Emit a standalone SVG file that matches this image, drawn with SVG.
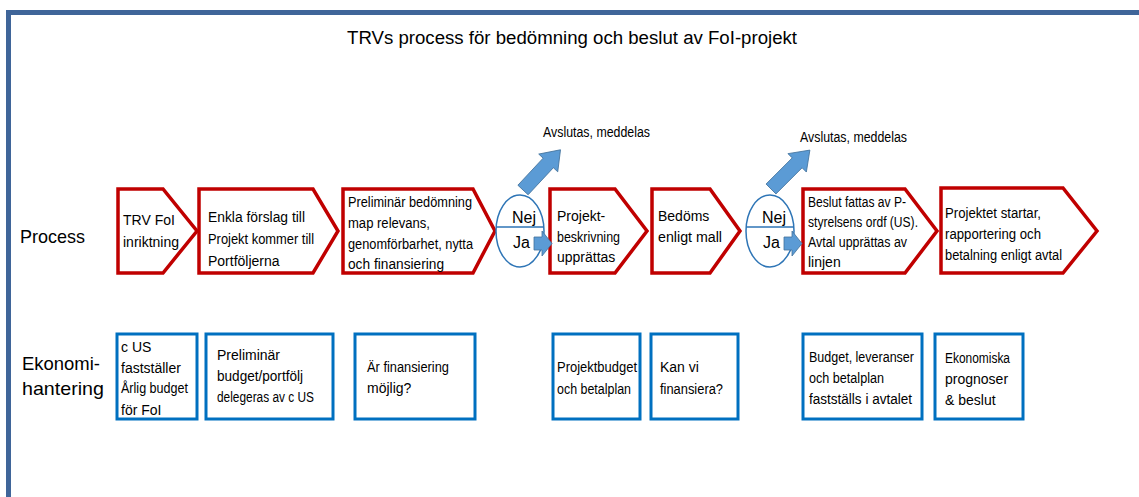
<svg xmlns="http://www.w3.org/2000/svg" width="1139" height="497" viewBox="0 0 1139 497">
<defs>
<style>
text{font-family:"Liberation Sans",Arial,sans-serif;fill:#000;}
.t{font-size:14px;}
.lbl{font-size:19px;}
.nj{font-size:16px;}
.chev{fill:#fff;stroke:#C00000;stroke-width:3.5;stroke-linejoin:miter;}
.box{fill:#fff;stroke:#0070C0;stroke-width:3;}
.circ{fill:#fff;stroke:#2E75B6;stroke-width:1.5;}
.blk{fill:#5B9BD5;stroke:#41719C;stroke-width:0.8;}
.frame{fill:none;stroke:#3F6599;stroke-width:5;}
</style>
</defs>
<rect width="1139" height="497" fill="#fff"/>
<path class="frame" d="M8.5,497 V12.5 H1139"/>
<text x="347" y="44" style="font-size:18px" textLength="450" lengthAdjust="spacingAndGlyphs">TRVs process för bedömning och beslut av FoI-projekt</text>

<text class="lbl" x="20" y="243" textLength="65" lengthAdjust="spacingAndGlyphs">Process</text>
<text class="lbl" x="22" y="370" textLength="78" lengthAdjust="spacingAndGlyphs">Ekonomi-</text>
<text class="lbl" x="22" y="395" textLength="82" lengthAdjust="spacingAndGlyphs">hantering</text>

<g id="p1"><polygon class="chev" points="118,189 163,189 197,231 163,273 118,273"/>
<text class="t" x="123" y="225">TRV FoI</text><text class="t" x="123" y="247">inriktning</text></g>
<g id="p2"><polygon class="chev" points="199,189 313,189 338,231 313,273 199,273"/>
<text class="t" x="208" y="222" textLength="97" lengthAdjust="spacingAndGlyphs">Enkla förslag till</text>
<text class="t" x="208" y="244" textLength="106" lengthAdjust="spacingAndGlyphs">Projekt kommer till</text>
<text class="t" x="208" y="266">Portföljerna</text></g>
<g id="p3"><polygon class="chev" points="343,189 473,189 495,231 473,273 343,273"/>
<text class="t" x="348" y="207" textLength="124" lengthAdjust="spacingAndGlyphs">Preliminär bedömning</text>
<text class="t" x="348" y="228" textLength="82" lengthAdjust="spacingAndGlyphs">map relevans,</text>
<text class="t" x="348" y="249" textLength="125" lengthAdjust="spacingAndGlyphs">genomförbarhet, nytta</text>
<text class="t" x="348" y="269" textLength="96" lengthAdjust="spacingAndGlyphs">och finansiering</text></g>
<g id="d1"><ellipse class="circ" cx="520" cy="231" rx="24" ry="36"/>
<line x1="496" y1="227" x2="544" y2="227" stroke="#2E75B6" stroke-width="1.5"/>
<text class="nj" x="512" y="223">Nej</text><text class="nj" x="513" y="248">Ja</text></g>
<g id="p4"><polygon class="chev" points="550,189 615,189 647,231 615,273 550,273"/>
<text class="t" x="557" y="221">Projekt-</text><text class="t" x="557" y="242" textLength="63" lengthAdjust="spacingAndGlyphs">beskrivning</text><text class="t" x="557" y="262">upprättas</text></g>
<g id="p5"><polygon class="chev" points="652,189 710,189 740,231 710,273 652,273"/>
<text class="t" x="658" y="221">Bedöms</text><text class="t" x="658" y="242" textLength="64" lengthAdjust="spacingAndGlyphs">enligt mall</text></g>
<g id="d2"><ellipse class="circ" cx="770" cy="231" rx="24" ry="36"/>
<line x1="746" y1="227" x2="794" y2="227" stroke="#2E75B6" stroke-width="1.5"/>
<text class="nj" x="762" y="223">Nej</text><text class="nj" x="763" y="248">Ja</text></g>
<g id="p6"><polygon class="chev" points="803,189 905,189 937,231 905,273 803,273"/>
<text class="t" x="808" y="207" textLength="98" lengthAdjust="spacingAndGlyphs">Beslut fattas av P-</text>
<text class="t" x="808" y="227" textLength="110" lengthAdjust="spacingAndGlyphs">styrelsens ordf (US).</text>
<text class="t" x="808" y="247" textLength="99" lengthAdjust="spacingAndGlyphs">Avtal upprättas av</text>
<text class="t" x="808" y="267">linjen</text></g>
<g id="p7"><polygon class="chev" points="941,188 1063,188 1097,231 1063,273 941,273"/>
<text class="t" x="945" y="218" textLength="96" lengthAdjust="spacingAndGlyphs">Projektet startar,</text>
<text class="t" x="945" y="239" textLength="96" lengthAdjust="spacingAndGlyphs">rapportering och</text>
<text class="t" x="945" y="260" textLength="117" lengthAdjust="spacingAndGlyphs">betalning enligt avtal</text></g>

<g id="connectors">
<polygon class="blk" points="0,-7 37,-7 37,-13 55,0 37,13 37,7 0,7" transform="translate(523,190) rotate(-47)"/>
<polygon class="blk" points="0,-7 37,-7 37,-13 55,0 37,13 37,7 0,7" transform="translate(771,189) rotate(-45)"/>
<polygon class="blk" points="534,237 542,237 542,231 552,243.5 542,256 542,250 534,250"/>
<polygon class="blk" points="784,237 792,237 792,231 802,243.5 792,256 792,250 784,250"/>
</g>
<text class="t" x="543" y="137" textLength="107" lengthAdjust="spacingAndGlyphs">Avslutas, meddelas</text>
<text class="t" x="800" y="142" textLength="107" lengthAdjust="spacingAndGlyphs">Avslutas, meddelas</text>

<g id="e1"><rect class="box" x="117" y="334" width="80" height="85"/>
<text class="t" x="121" y="352">c US</text><text class="t" x="121" y="373">fastställer</text>
<text class="t" x="121" y="393" textLength="67" lengthAdjust="spacingAndGlyphs">Årlig budget</text><text class="t" x="121" y="415">för FoI</text></g>
<g id="e2"><rect class="box" x="206" y="334" width="127" height="85"/>
<text class="t" x="217" y="360">Preliminär</text>
<text class="t" x="217" y="381" textLength="86" lengthAdjust="spacingAndGlyphs">budget/portfölj</text>
<text class="t" x="217" y="402" textLength="97" lengthAdjust="spacingAndGlyphs">delegeras av c US</text></g>
<g id="e3"><rect class="box" x="355" y="334" width="120" height="85"/>
<text class="t" x="367" y="372" textLength="82" lengthAdjust="spacingAndGlyphs">Är finansiering</text><text class="t" x="367" y="393">möjlig?</text></g>
<g id="e4"><rect class="box" x="553" y="334" width="87" height="85"/>
<text class="t" x="557" y="372" textLength="80" lengthAdjust="spacingAndGlyphs">Projektbudget</text>
<text class="t" x="557" y="394" textLength="74" lengthAdjust="spacingAndGlyphs">och betalplan</text></g>
<g id="e5"><rect class="box" x="651" y="334" width="87" height="85"/>
<text class="t" x="660" y="372">Kan vi</text><text class="t" x="660" y="394" textLength="63" lengthAdjust="spacingAndGlyphs">finansiera?</text></g>
<g id="e6"><rect class="box" x="803" y="334" width="119" height="85"/>
<text class="t" x="809" y="362" textLength="105" lengthAdjust="spacingAndGlyphs">Budget, leveranser</text>
<text class="t" x="809" y="383" textLength="75" lengthAdjust="spacingAndGlyphs">och betalplan</text>
<text class="t" x="809" y="404" textLength="103" lengthAdjust="spacingAndGlyphs">fastställs i avtalet</text></g>
<g id="e7"><rect class="box" x="935" y="334" width="88" height="85"/>
<text class="t" x="945" y="363" textLength="65" lengthAdjust="spacingAndGlyphs">Ekonomiska</text>
<text class="t" x="945" y="384">prognoser</text>
<text class="t" x="945" y="405">&amp; beslut</text></g>
</svg>
